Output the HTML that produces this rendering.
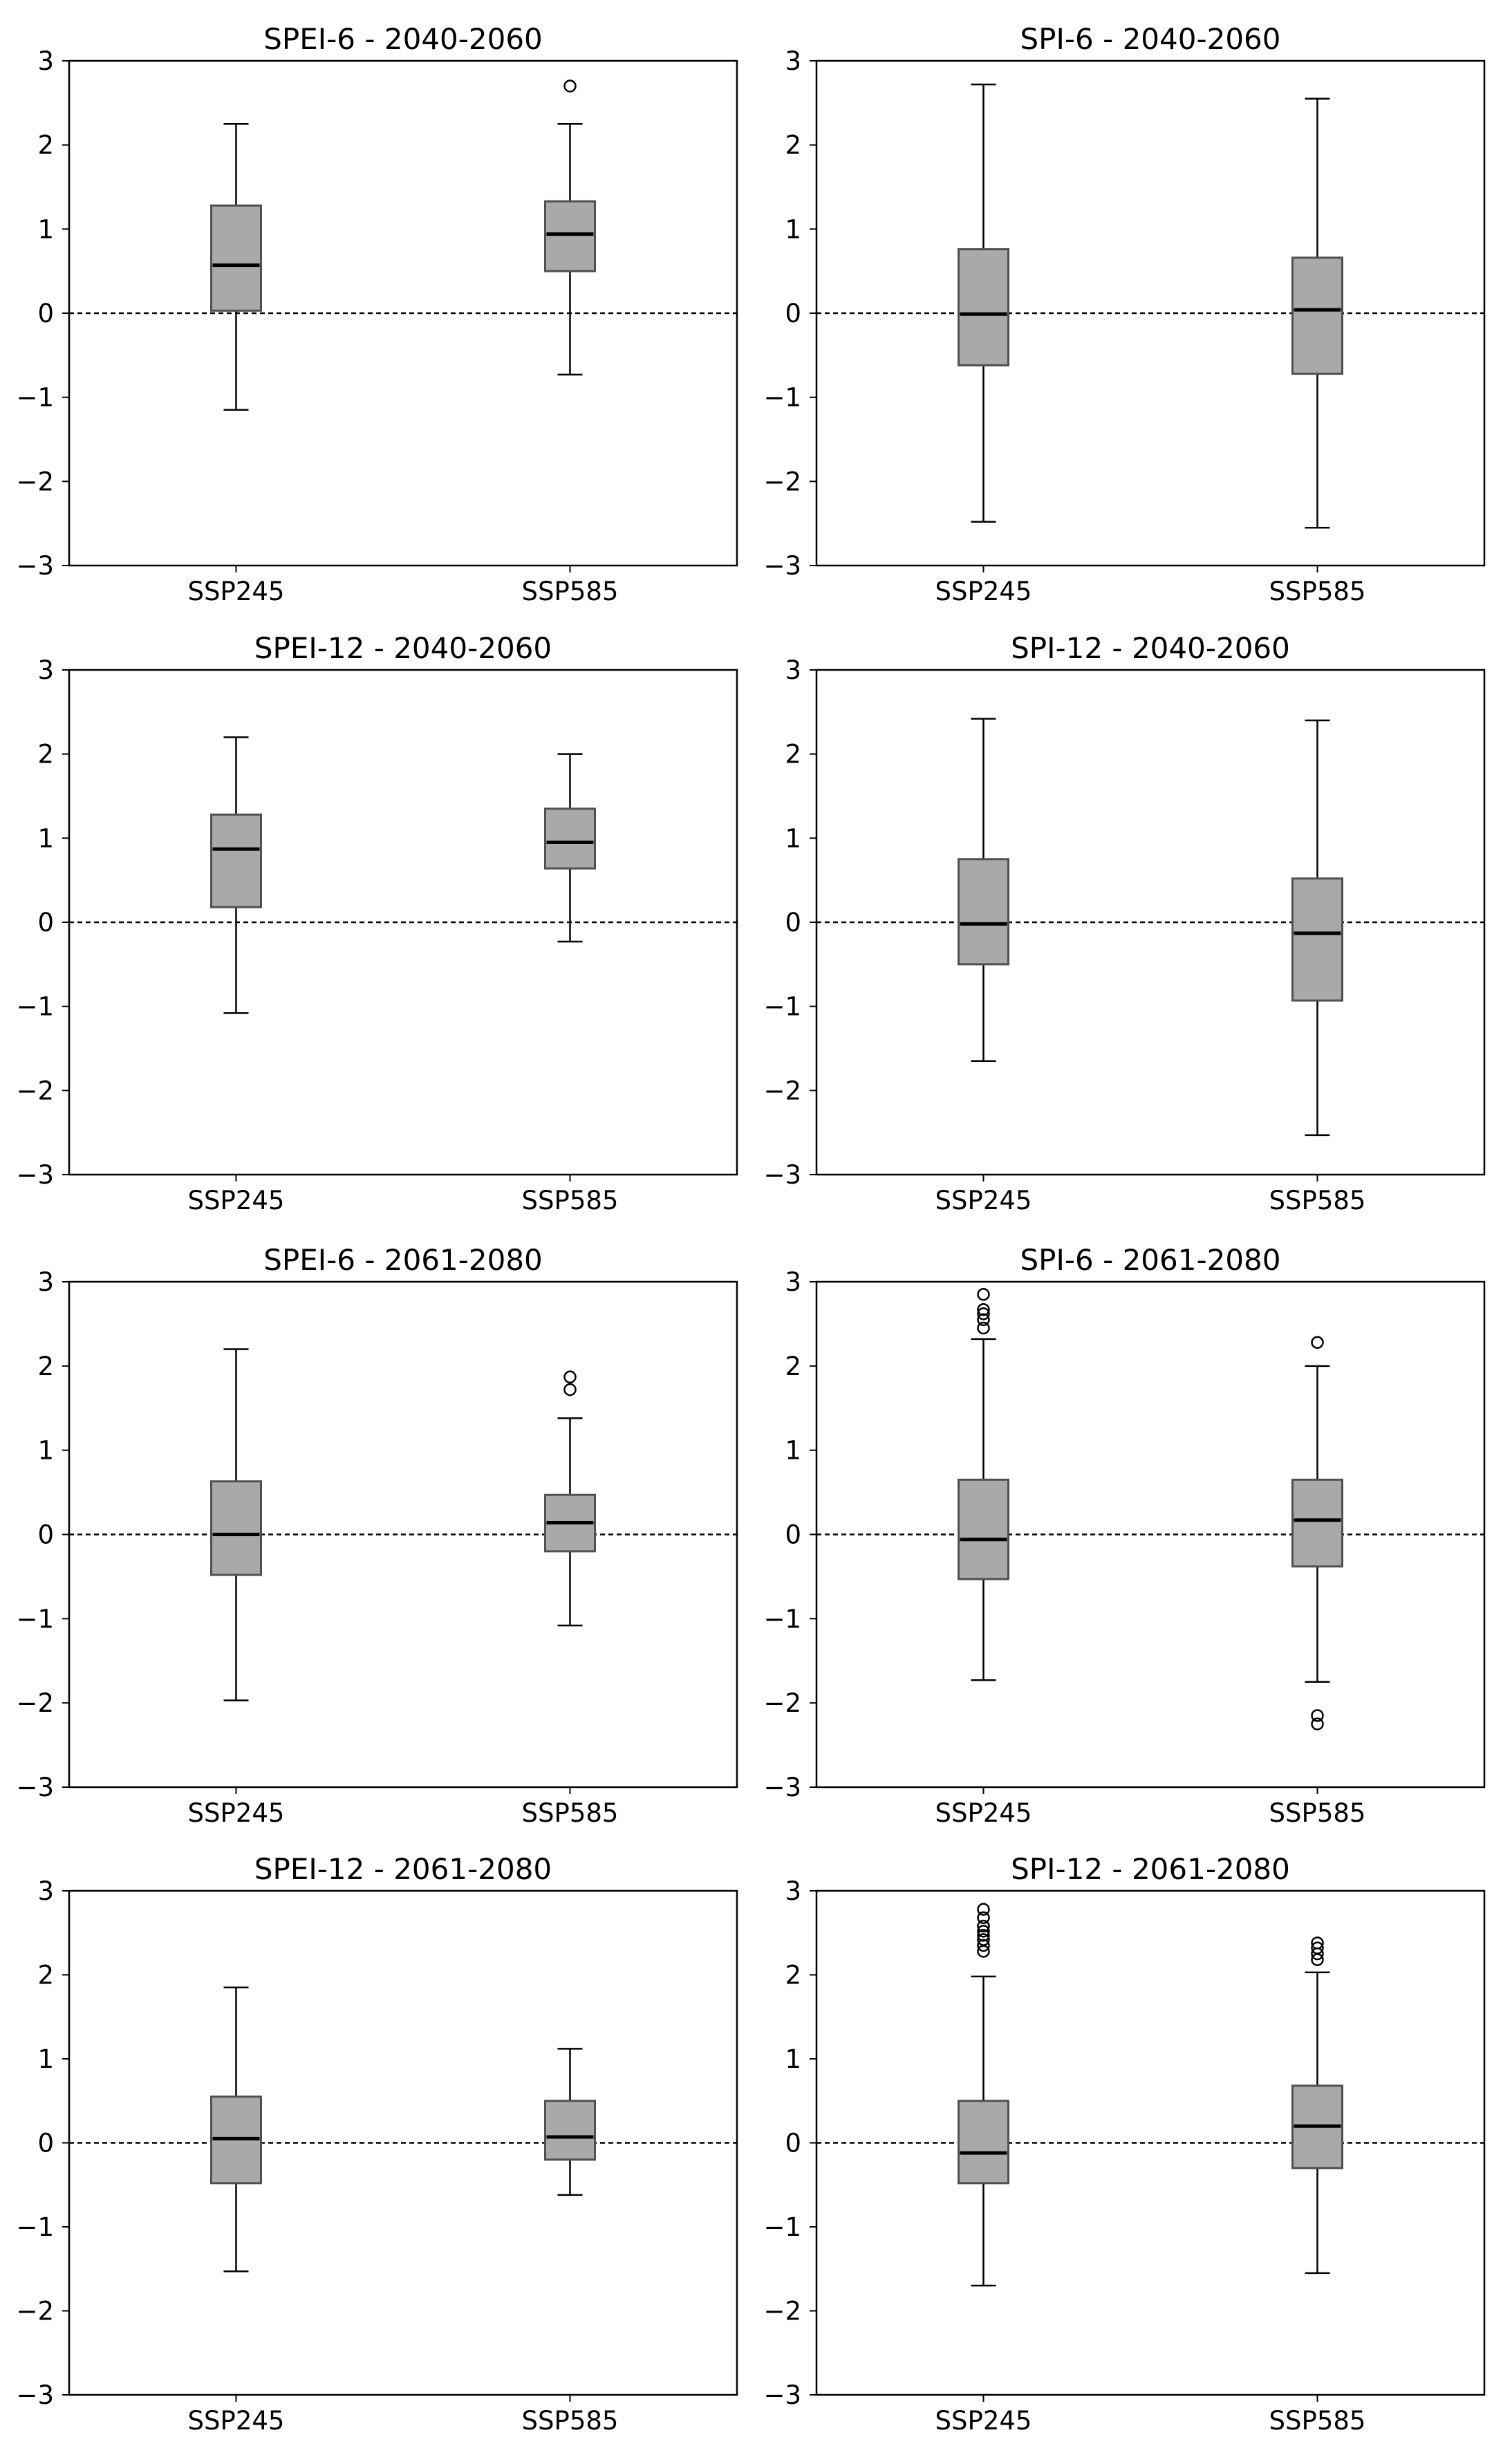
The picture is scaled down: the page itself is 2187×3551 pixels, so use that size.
<!DOCTYPE html>
<html><head><meta charset="utf-8">
<style>
html,body{margin:0;padding:0;background:#fff;}
svg{display:block;font-family:"DejaVu Sans","Liberation Sans",sans-serif;}
</style></head>
<body>
<svg id="chart" width="2187" height="3551" viewBox="0 0 2187 3551" xmlns="http://www.w3.org/2000/svg"></svg>
<script>
const titles = ["SPEI-6 - 2040-2060","SPI-6 - 2040-2060","SPEI-12 - 2040-2060","SPI-12 - 2040-2060","SPEI-6 - 2061-2080","SPI-6 - 2061-2080","SPEI-12 - 2061-2080","SPI-12 - 2061-2080"];
const categories = ["SSP245","SSP585"];
const yTicks = [-3,-2,-1,0,1,2,3];
const yTickLabels = ["\u22123","\u22122","\u22121","0","1","2","3"];
// [whiskerLow, q1, median, q3, whiskerHigh] per panel per category
const ssp245Stats = [
  [-1.15,0.03,0.57,1.28,2.25],
  [-2.48,-0.62,-0.01,0.76,2.72],
  [-1.08,0.18,0.87,1.28,2.2],
  [-1.65,-0.5,-0.02,0.75,2.42],
  [-1.97,-0.48,0.0,0.63,2.2],
  [-1.73,-0.53,-0.06,0.65,2.32],
  [-1.53,-0.48,0.05,0.55,1.85],
  [-1.7,-0.48,-0.12,0.5,1.98]
];
const ssp585Stats = [
  [-0.73,0.5,0.94,1.33,2.25],
  [-2.55,-0.72,0.04,0.66,2.55],
  [-0.23,0.64,0.95,1.35,2.0],
  [-2.53,-0.93,-0.13,0.52,2.4],
  [-1.08,-0.2,0.14,0.47,1.38],
  [-1.75,-0.38,0.17,0.65,2.0],
  [-0.62,-0.2,0.07,0.5,1.12],
  [-1.55,-0.3,0.2,0.68,2.03]
];
const ssp245Outliers = [[],[],[],[],[],[2.45,2.55,2.62,2.67,2.85],[],[2.28,2.35,2.42,2.47,2.52,2.58,2.68,2.78]];
const ssp585Outliers = [[2.7],[],[],[],[1.72,1.87],[2.28,-2.15,-2.25],[],[2.18,2.25,2.32,2.38]];

const NS="http://www.w3.org/2000/svg";
const svg=document.getElementById('chart');
function mk(tag,attrs,parent){const e=document.createElementNS(NS,tag);for(const k in attrs)e.setAttribute(k,attrs[k]);(parent||svg).appendChild(e);return e;}

const colX=[[100,1066],[1181,2147]];
const rowY=[[88,818],[969,1699],[1854,2585],[2735,3464]];

titles.forEach((t,i)=>{
  const c=i%2, r=Math.floor(i/2);
  const [x0,x1]=colX[c], [y0,y1]=rowY[r];
  const g=mk('g',{});
  
  
  const yS=v=>y1-(v+3)/6*(y1-y0);
  const xS=k=>x0+(x1-x0)*(0.25+0.5*k);
  const tt=mk('text',{x:(x0+x1)/2,y:y0-17,'text-anchor':'middle','font-size':42,fill:'#000'},g);
  tt.textContent=t;
  
  
  const zl=mk('line',{x1:x0,x2:x1,y1:yS(0),y2:yS(0),stroke:'#000','stroke-width':2.5,'stroke-dasharray':'7,5'},g);
  
  
  yTicks.forEach((v,j)=>{
    mk('line',{x1:x0-10,x2:x0,y1:yS(v),y2:yS(v),stroke:'#000','stroke-width':2},g);
    const tl=mk('text',{x:x0-22,y:yS(v)+13,'text-anchor':'end','font-size':37,fill:'#000'},g);
    tl.textContent=yTickLabels[j];
    
    
  });
  const stats=[ssp245Stats[i],ssp585Stats[i]];
  const outs=[ssp245Outliers[i],ssp585Outliers[i]];
  categories.forEach((cat,k)=>{
    const cx=xS(k), s=stats[k], bw=72, cw=36;
    mk('line',{x1:cx,x2:cx,y1:y1,y2:y1+10,stroke:'#000','stroke-width':2},g);
    const xl=mk('text',{x:cx,y:y1+50,'text-anchor':'middle','font-size':37,fill:'#000'},g);
    xl.textContent=cat;
    
    
    const bg=mk('g',{},g);
    
    
    mk('line',{x1:cx,x2:cx,y1:yS(s[0]),y2:yS(s[1]),stroke:'#000','stroke-width':2.5},bg);
    mk('line',{x1:cx,x2:cx,y1:yS(s[3]),y2:yS(s[4]),stroke:'#000','stroke-width':2.5},bg);
    mk('line',{x1:cx-cw/2,x2:cx+cw/2,y1:yS(s[0]),y2:yS(s[0]),stroke:'#000','stroke-width':2.5},bg);
    mk('line',{x1:cx-cw/2,x2:cx+cw/2,y1:yS(s[4]),y2:yS(s[4]),stroke:'#000','stroke-width':2.5},bg);
    mk('rect',{x:cx-bw/2,y:yS(s[3]),width:bw,height:yS(s[1])-yS(s[3]),fill:'#a9a9a9',stroke:'#505050','stroke-width':3},bg);
    mk('line',{x1:cx-bw/2+2,x2:cx+bw/2-2,y1:yS(s[2]),y2:yS(s[2]),stroke:'#000','stroke-width':5},bg);
    outs[k].forEach(v=>{
      const o=mk('circle',{cx:cx,cy:yS(v),r:8,fill:'none',stroke:'#000','stroke-width':2.5},bg);
      
      
    });
  });
  const fr=mk('rect',{x:x0,y:y0,width:x1-x0,height:y1-y0,fill:'none',stroke:'#000','stroke-width':2.5},g);
  
  
});
</script>
</body></html>
